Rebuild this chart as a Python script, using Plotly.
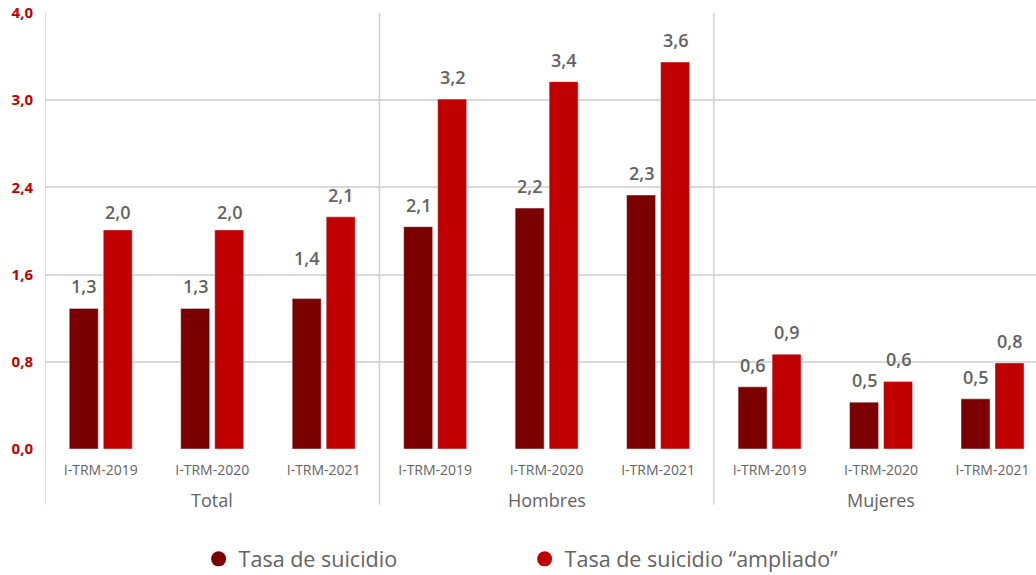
import plotly.graph_objects as go

# ---- data ----
groups = ["Total", "Hombres", "Mujeres"]
periods = ["I-TRM-2019", "I-TRM-2020", "I-TRM-2021"]
tasa = [1.29, 1.29, 1.38, 2.04, 2.21, 2.33, 0.57, 0.43, 0.46]
ampliado = [2.01, 2.01, 2.13, 3.21, 3.37, 3.55, 0.87, 0.62, 0.79]
tasa_labels = ["1,3", "1,3", "1,4", "2,1", "2,2", "2,3", "0,6", "0,5", "0,5"]
ampliado_labels = ["2,0", "2,0", "2,1", "3,2", "3,4", "3,6", "0,9", "0,6", "0,8"]
y_tickvals = [0, 0.8, 1.6, 2.4, 3.2, 4.0]
y_ticktext = ["0,0", "0,8", "1,6", "2,4", "3,0", "4,0"]
series_names = ["Tasa de suicidio", "Tasa de suicidio \u201campliado\u201d"]

# ---- style ----
FONT = "Open Sans"
DARK = "#7b0000"
RED = "#c00000"
GRAY = "#636363"
GRID = "#d9d9d9"
BARGAP = 0.39
BARGROUPGAP = 0.147
# label vertical offsets (px) -- a few labels were moved by hand in the original
tasa_shift = [8, 8, 27, 8, 8, 8, 8, 8, 8]
amp_shift = [4, 4, 8, 8, 8, 8, 8, 8, 8]

xs = list(range(len(groups) * len(periods)))
xlabels = [p for g in groups for p in periods]

fig = go.Figure()
fig.add_trace(go.Bar(x=xs, y=tasa, name=series_names[0], marker_color=DARK,
                     showlegend=False, hoverinfo="y"))
fig.add_trace(go.Bar(x=xs, y=ampliado, name=series_names[1], marker_color=RED,
                     showlegend=False, hoverinfo="y"))
# legend entries with round markers
for nm, col in zip(series_names, [DARK, RED]):
    fig.add_trace(go.Scatter(x=[None], y=[None], mode="markers", name=nm,
                             marker=dict(symbol="circle", size=15, color=col)))

off = (1 - BARGAP) / 4
ann = []
for i, x in enumerate(xs):
    ann.append(dict(x=x - off, y=tasa[i], text=tasa_labels[i], showarrow=False,
                    yanchor="bottom", yshift=tasa_shift[i],
                    font=dict(family=FONT, size=18, color=GRAY, weight=600)))
    ann.append(dict(x=x + off, y=ampliado[i], text=ampliado_labels[i], showarrow=False,
                    yanchor="bottom", yshift=amp_shift[i],
                    font=dict(family=FONT, size=18, color=GRAY, weight=600)))
for gi, g in enumerate(groups):
    ann.append(dict(x=gi * 3 + 1, y=-0.117, xref="x", yref="paper", text=g,
                    showarrow=False, yanchor="middle",
                    font=dict(family=FONT, size=18, color=GRAY)))

shapes = []
for b in [-0.5, 2.5, 5.5, 8.5]:
    shapes.append(dict(type="line", xref="x", yref="paper", x0=b, x1=b,
                       y0=-0.128, y1=1, line=dict(color="#d0d0d0", width=1.5)))

fig.update_layout(
    width=1036, height=575,
    margin=dict(l=45, r=0, t=13, b=126, autoexpand=False),
    paper_bgcolor="white", plot_bgcolor="white",
    barmode="group", bargap=BARGAP, bargroupgap=BARGROUPGAP,
    font=dict(family=FONT, color=GRAY),
    annotations=ann, shapes=shapes,
    legend=dict(orientation="h", x=0.155, xanchor="left", y=-0.205, yanchor="top",
                font=dict(family=FONT, size=21.5, color=GRAY),
                entrywidth=281, itemclick=False),
    xaxis=dict(range=[-0.5, 8.39], tickmode="array", tickvals=xs, ticktext=xlabels,
               showgrid=False, zeroline=False, showline=False,
               ticks="outside", ticklen=8, tickcolor="rgba(0,0,0,0)",
               tickfont=dict(family=FONT, size=14, color=GRAY)),
    yaxis=dict(range=[0, 4.0], tickmode="array", tickvals=y_tickvals, ticktext=y_ticktext,
               showgrid=True, gridcolor=GRID, gridwidth=2, zeroline=False, showline=False,
               ticks="outside", ticklen=8, tickcolor="rgba(0,0,0,0)",
               tickfont=dict(family=FONT, size=15, color=RED, weight="bold")),
)

fig.write_html("out.html")
